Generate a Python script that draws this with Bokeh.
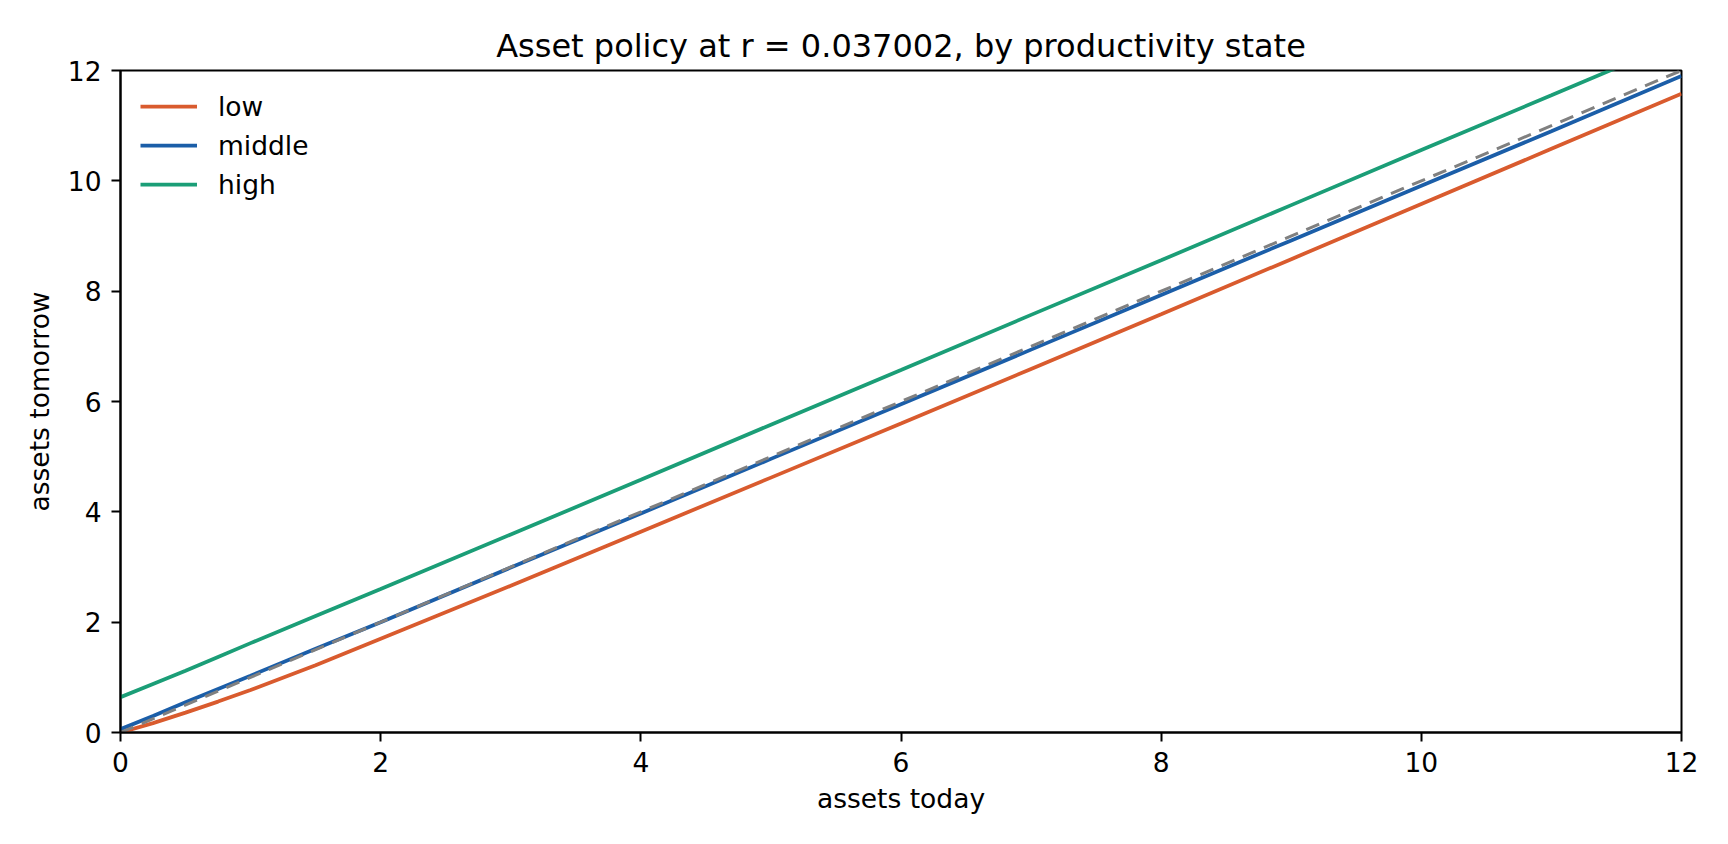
from bokeh.plotting import figure
from bokeh.models import Range1d, FixedTicker, Legend, LegendItem
from bokeh.embed import file_html
from bokeh.resources import INLINE

# ---- data ----
assets_today = [0, 0.25, 0.5, 0.75, 1, 1.5, 2, 3, 4, 5, 6, 7, 8, 9, 10, 11, 12]
low_policy = [0.0, 0.17, 0.36, 0.56, 0.77, 1.22, 1.70, 2.66, 3.64, 4.62, 5.60, 6.59, 7.58, 8.58, 9.58, 10.58, 11.58]
middle_policy = [0.06, 0.30, 0.55, 0.79, 1.03, 1.52, 2.00, 2.99, 3.97, 4.96, 5.95, 6.94, 7.93, 8.92, 9.91, 10.90, 11.90]
high_policy = [0.64, 0.88, 1.12, 1.37, 1.62, 2.11, 2.60, 3.59, 4.58, 5.58, 6.57, 7.57, 8.56, 9.56, 10.56, 11.55, 12.55]
diag_x = [0, 12]
diag_y = [0, 12]
ticks = [0, 2, 4, 6, 8, 10, 12]
series_names = ["low", "middle", "high"]
series_colors = ["#d95b2e", "#1b5ea8", "#1b9e77"]

FONT = "DejaVu Sans"
TXT = "26.5px"

p = figure(
    frame_width=1561, frame_height=662,
    min_border_left=120, min_border_right=31, min_border_top=70, min_border_bottom=96,
    x_range=Range1d(0, 12), y_range=Range1d(0, 12),
    output_backend="svg", toolbar_location=None,
    title="Asset policy at r = 0.037002, by productivity state",
)
p.background_fill_color = "white"
p.border_fill_color = "white"
p.outline_line_color = "black"
p.outline_line_width = 2
p.xgrid.visible = False
p.ygrid.visible = False

p.title.text_font = FONT
p.title.text_font_size = "32px"
p.title.text_font_style = "normal"
p.title.text_color = "black"
p.title.align = "center"
p.title.standoff = 11

renderers = []
for ys, name, col in zip([low_policy, middle_policy, high_policy], series_names, series_colors):
    r = p.line(assets_today, ys, line_color=col, line_width=3.75)
    renderers.append((name, r))

p.line(diag_x, diag_y, line_color="#808080", line_width=3, line_dash="14 9")

for ax in (p.xaxis[0], p.yaxis[0]):
    ax.ticker = FixedTicker(ticks=ticks)
    ax.axis_line_width = 2
    ax.axis_line_color = "black"
    ax.major_tick_line_width = 2
    ax.major_tick_line_color = "black"
    ax.major_tick_out = 9
    ax.major_tick_in = 0
    ax.minor_tick_line_color = None
    ax.major_label_text_font = FONT
    ax.major_label_text_font_size = TXT
    ax.major_label_text_color = "black"
    ax.major_label_standoff = 10
    ax.axis_label_text_font = FONT
    ax.axis_label_text_font_size = TXT
    ax.axis_label_text_font_style = "normal"
    ax.axis_label_text_color = "black"
    ax.axis_label_standoff = 10

p.xaxis.axis_label_standoff = 8
p.xaxis.axis_label = "assets today"
p.yaxis.axis_label = "assets tomorrow"

legend = Legend(
    items=[LegendItem(label=n, renderers=[r]) for n, r in renderers],
    location="top_left",
    border_line_color=None,
    background_fill_alpha=0,
    margin=20, padding=10, spacing=7,
    glyph_width=57, glyph_height=32, label_height=32, label_standoff=21,
    label_text_font=FONT, label_text_font_size=TXT, label_text_color="black",
)
p.add_layout(legend)

open("out.html", "w").write(file_html(p, INLINE))
